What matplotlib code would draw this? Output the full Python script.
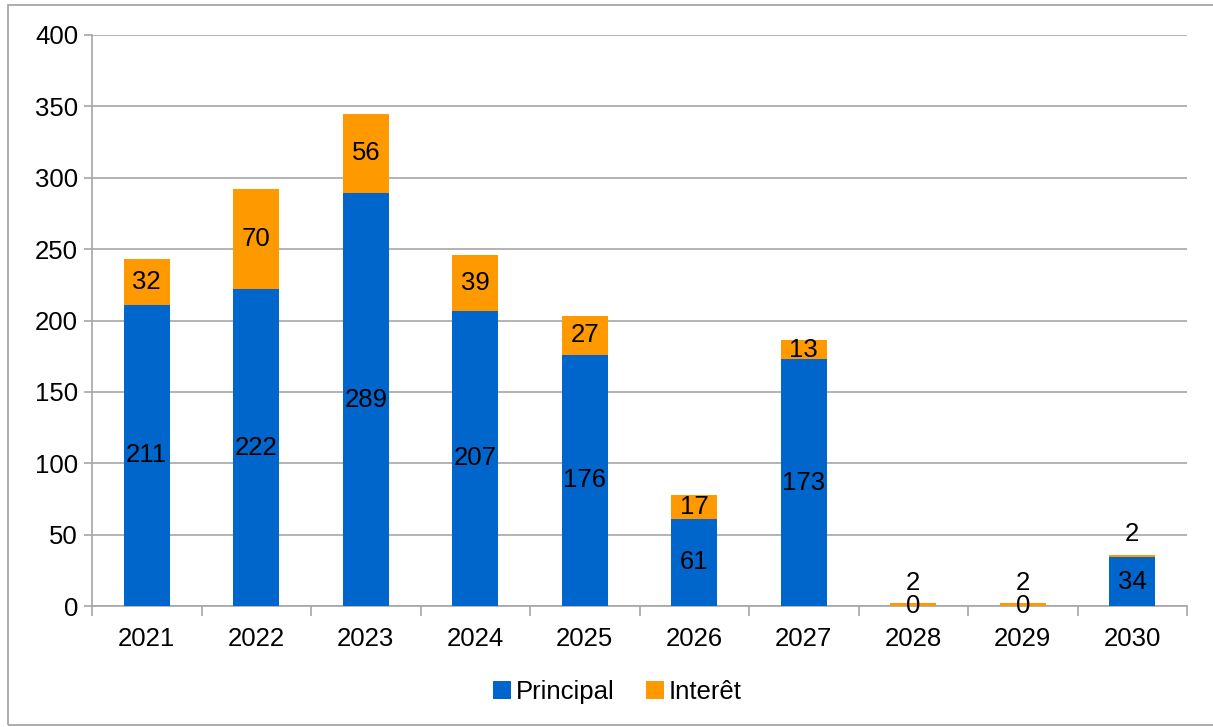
import matplotlib.pyplot as plt
import numpy as np
from matplotlib.patches import Rectangle

plt.rcParams['font.family'] = ['Liberation Sans', 'DejaVu Sans']

years = ['2021', '2022', '2023', '2024', '2025', '2026', '2027', '2028', '2029', '2030']
principal = [211, 222, 289, 207, 176, 61, 173, 0, 0, 34]
interet = [32, 70, 56, 39, 27, 17, 13, 2, 2, 2]

blue = '#0066CC'
orange = '#FF9900'
grid = '#A6A6A6'

fig = plt.figure(figsize=(12.13, 7.27), dpi=100)
ax = fig.add_axes([92 / 1213, 1 - 606 / 727, 1095 / 1213, 571 / 727])

# frame around the chart
fig.patches.append(Rectangle((8 / 1213, 2 / 727), 1.2, 720 / 727, transform=fig.transFigure,
                             fill=False, edgecolor='#A0A0A0', linewidth=1.2))

x = np.arange(len(years))
w = 0.42
ax.bar(x, principal, w, color=blue, label='Principal', zorder=3)
ax.bar(x, interet, w, bottom=principal, color=orange, label='Interêt', zorder=3)

fs = 18.5
for i in range(len(years)):
    p, it = principal[i], interet[i]
    ax.text(x[i], p / 2, str(p), ha='center', va='center', fontsize=fs, zorder=4)
    if it < 5:
        ax.annotate(str(it), (x[i], p + it), xytext=(0, 6), textcoords='offset points',
                    ha='center', va='bottom', fontsize=fs, zorder=4)
    else:
        ax.text(x[i], p + it / 2, str(it), ha='center', va='center', fontsize=fs, zorder=4)

ax.set_xlim(-0.5, len(years) - 0.5)
ax.set_ylim(0, 400)
ax.set_yticks(range(0, 401, 50))
ax.set_xticks(x)
ax.set_xticklabels(years)
ax.set_xticks(np.arange(-0.5, len(years), 1), minor=True)
ax.tick_params(axis='x', which='major', length=0, labelsize=fs, pad=15)
ax.tick_params(axis='x', which='minor', length=7, color=grid, width=1.2)
ax.tick_params(axis='y', length=6, color=grid, width=1.2, labelsize=fs, pad=4)
ax.yaxis.grid(True, color=grid, linewidth=1.2, zorder=0)
for s in ['top', 'right']:
    ax.spines[s].set_visible(False)
for s in ['left', 'bottom']:
    ax.spines[s].set_color(grid)
    ax.spines[s].set_linewidth(1.2)

ax.legend(loc='center', bbox_to_anchor=(0.48, -0.15), ncol=2, frameon=False,
          fontsize=fs, handlelength=0.7, handleheight=0.7, handletextpad=0.2,
          columnspacing=1.2)

fig.savefig('out.png', dpi=100)
